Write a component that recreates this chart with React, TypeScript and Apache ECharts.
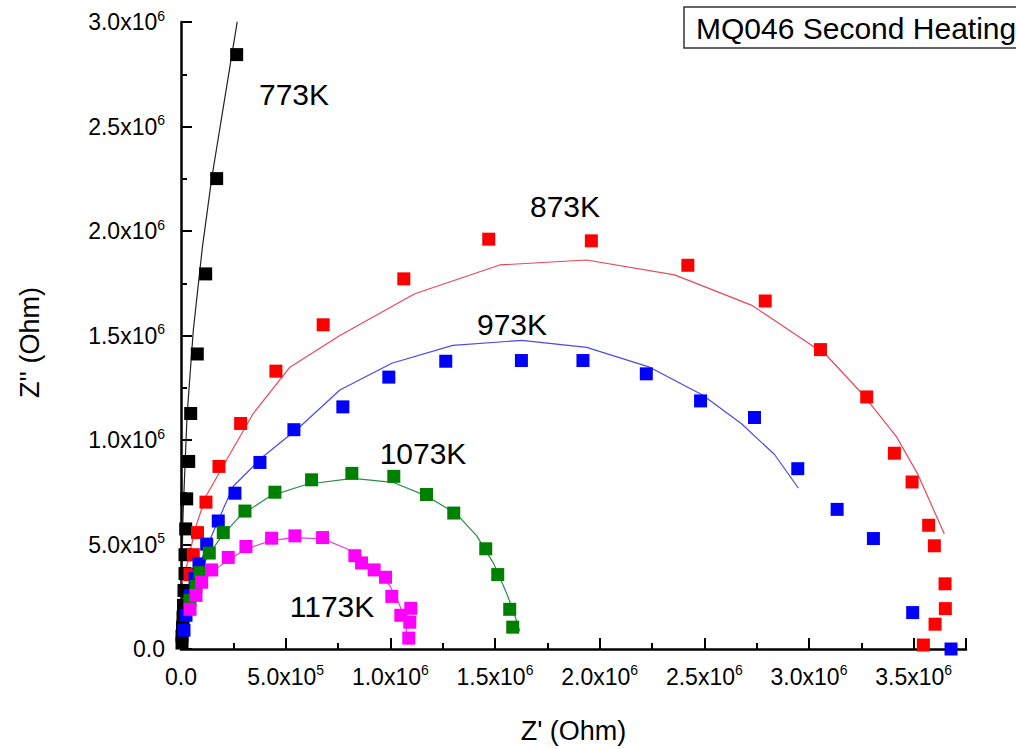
import React, { useEffect, useRef } from "react";
import * as echarts from "echarts";

// ---- Data (Z' , Z'') in Ohm ----
const pts773K: number[][] = [
  [265900, 2844000], [170400, 2250600], [117900, 1794700], [77800, 1411600],
  [46300, 1126700], [36800, 897400], [27200, 718400], [22400, 574500],
  [19100, 451100], [19100, 360800], [14300, 280100], [11900, 208900],
  [9500, 152000], [7200, 104500], [4800, 61700], [4800, 28500],
];
const fit773K: number[][] = [
  [268700, 3002000], [146500, 2250600], [101700, 1918200], [58700, 1524100],
  [28600, 1111000], [9500, 636200], [2400, 256400], [0, 0],
];

const pts873K: number[][] = [
  [42960, 356100], [58700, 451100], [78750, 556900], [119300, 702700],
  [181400, 873600], [284900, 1079200], [453400, 1329400], [679200, 1551200],
  [1064400, 1771000], [1470100, 1960900], [1960300, 1952900], [2421300, 1836000],
  [2790800, 1665100], [3054700, 1432500], [3275700, 1206000], [3407900, 936800],
  [3492400, 799100], [3571600, 592100], [3598800, 493800], [3649900, 311900],
  [3651300, 193200], [3602200, 118700], [3546300, 19000],
];
const fit873K: number[][] = [
  [4800, 313400], [33400, 422600], [71600, 588800], [119300, 731200],
  [218100, 905400], [345100, 1126700], [520300, 1348400], [758900, 1500400],
  [1116900, 1699800], [1522600, 1837500], [1937800, 1861200], [2357900, 1790000],
  [2730200, 1642800], [3083400, 1405400], [3255200, 1220200], [3417500, 1016100],
  [3517700, 840400], [3646600, 550800],
];

const pts973K: number[][] = [
  [14300, 90200], [23900, 161400], [43000, 256400], [66800, 337100],
  [85900, 406900], [122700, 501900], [178000, 612500], [257700, 745400],
  [377100, 892600], [539300, 1049300], [773200, 1158500], [992800, 1300900],
  [1264800, 1376900], [1626200, 1380200], [1920200, 1380200], [2222800, 1316600],
  [2482000, 1187000], [2739700, 1107700], [2946400, 862700], [3134400, 668000],
  [3307700, 528400], [3495300, 174300], [3678500, 0],
];
const fit973K: number[][] = [
  [0, 0], [19100, 66500], [43000, 194700], [90700, 413100], [176600, 612500],
  [249600, 778700], [392800, 921100], [568000, 1063600], [758900, 1239200],
  [1007100, 1367400], [1298300, 1452900], [1627600, 1476600], [1937800, 1443400],
  [2238500, 1348400], [2491500, 1215500], [2677700, 1077800], [2835200, 930600],
  [2949700, 769200],
];

const pts1073K: number[][] = [
  [43000, 232700], [71600, 299100], [90700, 365600], [135100, 459100],
  [201900, 556900], [305500, 660000], [448700, 750200], [623800, 809500],
  [816200, 840400], [1016600, 826200], [1172700, 739300], [1303000, 650500],
  [1455800, 479500], [1513000, 356100], [1570300, 189900], [1584600, 104500],
];
const fit1073K: number[][] = [
  [0, 0], [23900, 137700], [52500, 256400], [85900, 351400], [128900, 446300],
  [195700, 541300], [281600, 636200], [424800, 731200], [601400, 788200],
  [821000, 816700], [1011900, 797700], [1174200, 731200], [1317300, 645700],
  [1412800, 541300], [1494000, 408300], [1556000, 265900], [1594200, 161400],
  [1618000, 85500],
];

const pts1173K: number[][] = [
  [43000, 189900], [71600, 256400], [98800, 319500], [146500, 378400],
  [225800, 438200], [310200, 490500], [432900, 530300], [544100, 541300],
  [676300, 533200], [830500, 446300], [862500, 411700], [922600, 378400],
  [977000, 343300], [1007100, 251600], [1050100, 161400], [1097800, 194700],
  [1093000, 128200], [1088200, 52200],
];
const fit1173K: number[][] = [
  [0, 0], [19100, 128200], [52500, 256400], [90700, 313400], [157500, 375100],
  [219600, 422600], [315000, 479500], [424800, 517500], [534600, 533200],
  [677800, 527000], [792300, 479500], [916400, 384600], [997600, 303900],
  [1045300, 208900], [1073900, 114000], [1083500, 19000],
];

const seriesNames = ["773K", "873K", "973K", "1073K", "1173K"];
const title = "MQ046 Second Heating";
const xTitle = "Z' (Ohm)";
const yTitle = "Z'' (Ohm)";

const FONT = "Arial, 'Liberation Sans', Helvetica, sans-serif";

function fmt(v: number): string {
  if (Math.abs(v) < 1) return "{a|0.0}";
  if (Math.abs(v % 500000) > 1) return "";
  const e = Math.floor(Math.log10(v) + 1e-9);
  const m = v / Math.pow(10, e);
  return `{a|${m.toFixed(1)}x10}{s|${e}}`;
}

const rich = {
  a: { fontSize: 23, fontFamily: FONT, color: "#000", lineHeight: 27 },
  s: { fontSize: 14, fontFamily: FONT, color: "#000", lineHeight: 14, verticalAlign: "top" },
};

export default function App() {
  const ref = useRef<HTMLDivElement>(null);
  useEffect(() => {
    if (!ref.current) return;
    const chart = echarts.init(ref.current, undefined, { renderer: "svg" });

    const scatter = (name: string, data: number[][], color: string) => ({
      type: "scatter",
      name,
      data,
      symbol: "rect",
      symbolSize: 13,
      itemStyle: { color, opacity: 1 },
      z: 3,
    });
    const fit = (name: string, data: number[][], color: string) => ({
      type: "line",
      name: name + " fit",
      data,
      showSymbol: false,
      symbol: "none",
      lineStyle: { color, width: 1.2 },
      z: 2,
    });

    const labelText = (text: string, x: number, y: number) => ({
      type: "text",
      x,
      y,
      style: {
        text,
        fontSize: 30,
        fontFamily: FONT,
        fill: "#000",
        align: "center",
        verticalAlign: "middle",
      },
      z: 10,
    });

    const axisCommon = {
      axisLine: { show: true, onZero: false, lineStyle: { color: "#000", width: 2.5 } },
      axisTick: { show: true, inside: true, length: 11, lineStyle: { color: "#000", width: 2 } },
      minorTick: { show: true, splitNumber: 2, length: 6, lineStyle: { color: "#000", width: 2 } },
      splitLine: { show: false },
      minorSplitLine: { show: false },
    };

    chart.setOption({
      animation: false,
      backgroundColor: "#fff",
      grid: { left: 181, top: 22, width: 785, height: 632, containLabel: false },
      xAxis: {
        type: "value",
        min: 0,
        max: 3750000,
        interval: 500000,
        name: xTitle,
        nameLocation: "middle",
        nameGap: 68,
        nameTextStyle: { fontSize: 27, fontFamily: FONT, color: "#000" },
        ...axisCommon,
        axisLabel: { formatter: fmt, rich, margin: 14, showMaxLabel: false },
      },
      yAxis: {
        type: "value",
        min: 0,
        max: 3000000,
        interval: 500000,
        name: yTitle,
        nameLocation: "middle",
        nameGap: 138,
        nameRotate: 90,
        nameTextStyle: { fontSize: 27, fontFamily: FONT, color: "#000", padding: [0, 0, 0, -14] },
        ...axisCommon,
        axisLabel: { formatter: fmt, rich, margin: 16 },
      },
      series: [
        fit(seriesNames[0], fit773K, "#222222"),
        fit(seriesNames[1], fit873K, "#e8485a"),
        fit(seriesNames[2], fit973K, "#4a4ae8"),
        fit(seriesNames[3], fit1073K, "#2e8b4a"),
        fit(seriesNames[4], fit1173K, "#e040e0"),
        scatter(seriesNames[0], pts773K, "#000000"),
        scatter(seriesNames[1], pts873K, "#ff0000"),
        scatter(seriesNames[2], pts973K, "#0000ff"),
        scatter(seriesNames[3], pts1073K, "#008000"),
        scatter(seriesNames[4], pts1173K, "#ff00ff"),
      ],
      graphic: [
        {
          type: "rect",
          shape: { x: 684, y: 7, width: 340, height: 41 },
          style: { fill: "#fff", stroke: "#333", lineWidth: 1.5 },
          z: 10,
        },
        {
          type: "text",
          x: 696,
          y: 28,
          style: {
            text: title,
            fontSize: 30,
            fontFamily: FONT,
            fill: "#000",
            align: "left",
            verticalAlign: "middle",
          },
          z: 11,
        },
        labelText(seriesNames[0], 294, 94),
        labelText(seriesNames[1], 565, 206),
        labelText(seriesNames[2], 512, 324),
        labelText(seriesNames[3], 423, 453),
        labelText(seriesNames[4], 332, 606),
      ],
    });
    return () => chart.dispose();
  }, []);
  return (
    <div
      ref={ref}
      style={{ position: "fixed", left: 0, top: 0, width: 1016, height: 749, background: "#fff" }}
    />
  );
}
